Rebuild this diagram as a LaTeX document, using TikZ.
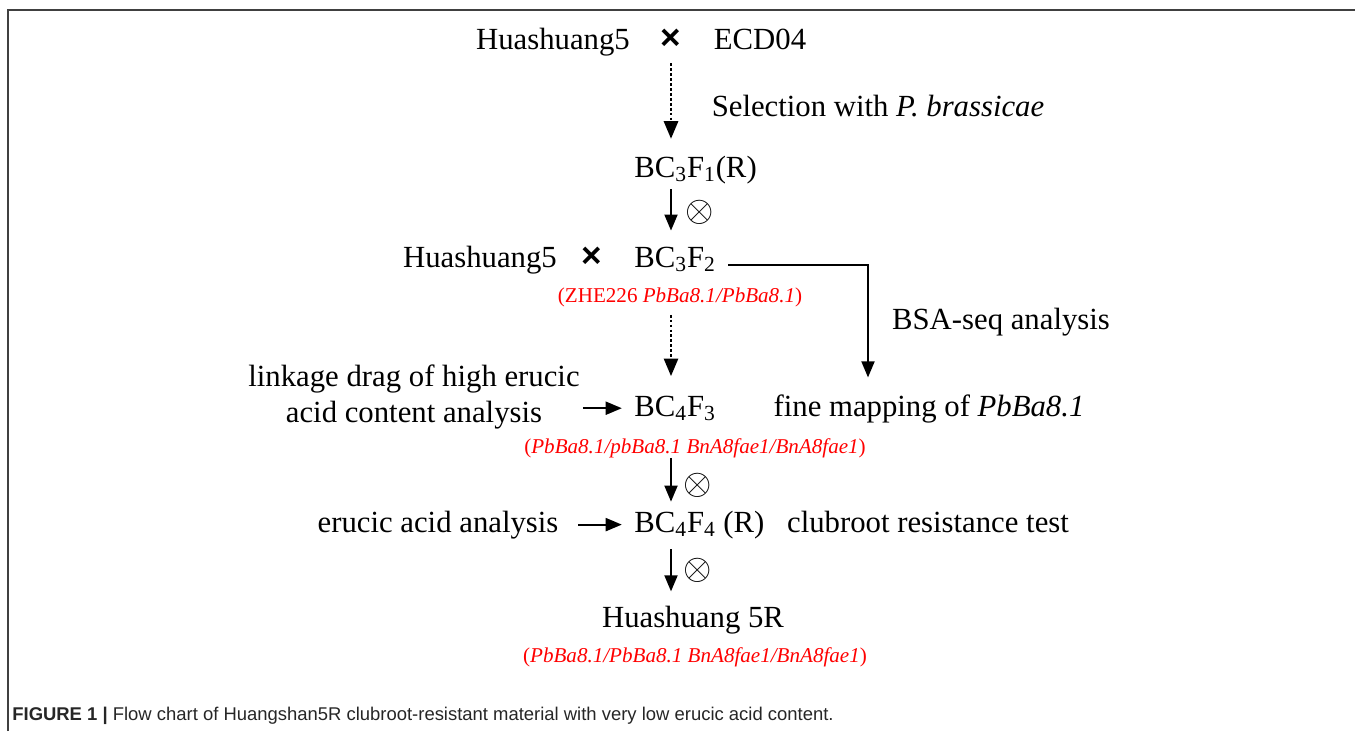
\documentclass[tikz,border=0pt]{standalone}
\usepackage{fontspec}
\usepackage{amsmath}
\usepackage{tikz}
\usetikzlibrary{arrows}
\setmainfont{Liberation Serif}
\newfontfamily\capfont{Liberation Sans}
\definecolor{ffqqqq}{rgb}{1.,0.,0.}
\definecolor{frgray}{rgb}{0.25,0.25,0.25}
\begin{document}
\begin{tikzpicture}[line cap=butt,line join=miter,>=triangle 45,x=0.02cm,y=-0.02cm,
  txt/.style={inner sep=0pt,anchor=base,font=\fontsize{17.5}{20.5}\selectfont},
  gen/.style={inner sep=0pt,anchor=base,text=ffqqqq,font=\fontsize{12}{14}\selectfont},
  crs/.style={inner sep=0pt,anchor=base,font=\capfont\bfseries\fontsize{20}{24}\selectfont},
  slf/.style={inner sep=0pt,anchor=center,font=\fontsize{20.5}{24}\selectfont},
  arr/.style={->,line width=1.1pt},
  dotarr/.style={->,line width=1.3pt,dash pattern=on 1.6pt off 1.2pt}]
\useasboundingbox (0,0) rectangle (1355,731);
\draw [line width=0.6pt,color=frgray] (8,731) -- (8,10) -- (1355,10);
% first cross
\node [txt] (hs1) at (553,49) {Huashuang5};
\node [crs] (cross1) at (671,49) {×};
\node [txt] (ecd) at (760,49) {ECD04};
\node [txt] (sel) at (878,116) {Selection with \textit{P. brassicae}};
\node [txt,anchor=base west] (bcfa) at (634,177) {BC\textsubscript{3}F\textsubscript{1}(R)};
% backcross
\node [txt] (hs2) at (480,267) {Huashuang5};
\node [crs] (cross2) at (592,267) {×};
\node [txt,anchor=base west] (bcfb) at (634,267) {BC\textsubscript{3}F\textsubscript{2}};
\node [gen] (redb) at (680,302) {(ZHE226 \textit{PbBa8.1/PbBa8.1})};
\node [txt] (bsa) at (1001,329) {BSA-seq analysis};
\coordinate (bend) at (868,265);
% BC4F3 row
\node [txt,anchor=center,align=center] (linkage) at (414,397) {linkage drag of high erucic\\acid content analysis};
\node [txt,anchor=base west] (bcfc) at (634,416) {BC\textsubscript{4}F\textsubscript{3}};
\node [txt] (fine) at (929,416) {fine mapping of \textit{PbBa8.1}};
\node [gen] (redc) at (695,453) {(\textit{PbBa8.1/pbBa8.1 BnA8fae1/BnA8fae1})};
% BC4F4 row
\node [txt] (erucic) at (438,532) {erucic acid analysis};
\node [txt,anchor=base west] (bcfd) at (634,532) {BC\textsubscript{4}F\textsubscript{4} (R)};
\node [txt] (club) at (928,532) {clubroot resistance test};
\node [txt] (hs5r) at (693,627) {Huashuang 5R};
\node [gen] (redd) at (695,662) {(\textit{PbBa8.1/PbBa8.1 BnA8fae1/BnA8fae1})};
% selfing marks
\node [slf] (self1) at (700,212) {$\otimes$};
\node [slf] (self2) at (698,485) {$\otimes$};
\node [slf] (self3) at (698,570) {$\otimes$};
% arrows
\draw [dotarr,shorten <=8pt,shorten >=9.5pt] (cross1.south) -- (cross1 |- bcfa.north);
\draw [arr,shorten <=3pt,shorten >=9pt] (bcfa.south -| cross1) -- (bcfb.north -| cross1);
\draw [dotarr,shorten <=4.5pt,shorten >=11pt] (redb.south -| cross1) -- (bcfc.north -| cross1);
\draw [arr,shorten <=0pt,shorten >=5pt] (redc.south -| cross1) -- (bcfd.north -| cross1);
\draw [arr,shorten <=6pt,shorten >=8pt] (bcfd.south -| cross1) -- (hs5r.north -| cross1);
\draw [arr,shorten <=7pt,shorten >=9.5pt] (bcfb.east |- bend) -- (bend) -- (bend |- fine.north);
\draw [arr,shorten <=1.7pt,shorten >=7pt] (linkage.east |- bcfc.west) -- (bcfc.west);
\draw [arr,shorten <=11pt,shorten >=7pt] (erucic.east |- bcfd.west) -- (bcfd.west);
% caption
\node [inner sep=0pt,anchor=base west,text=black!85,font=\capfont\fontsize{10.5}{12}\selectfont] (caption) at (12,720) {\textbf{FIGURE 1 |} Flow chart of Huangshan5R clubroot-resistant material with very low erucic acid content.};
\end{tikzpicture}
\end{document}
